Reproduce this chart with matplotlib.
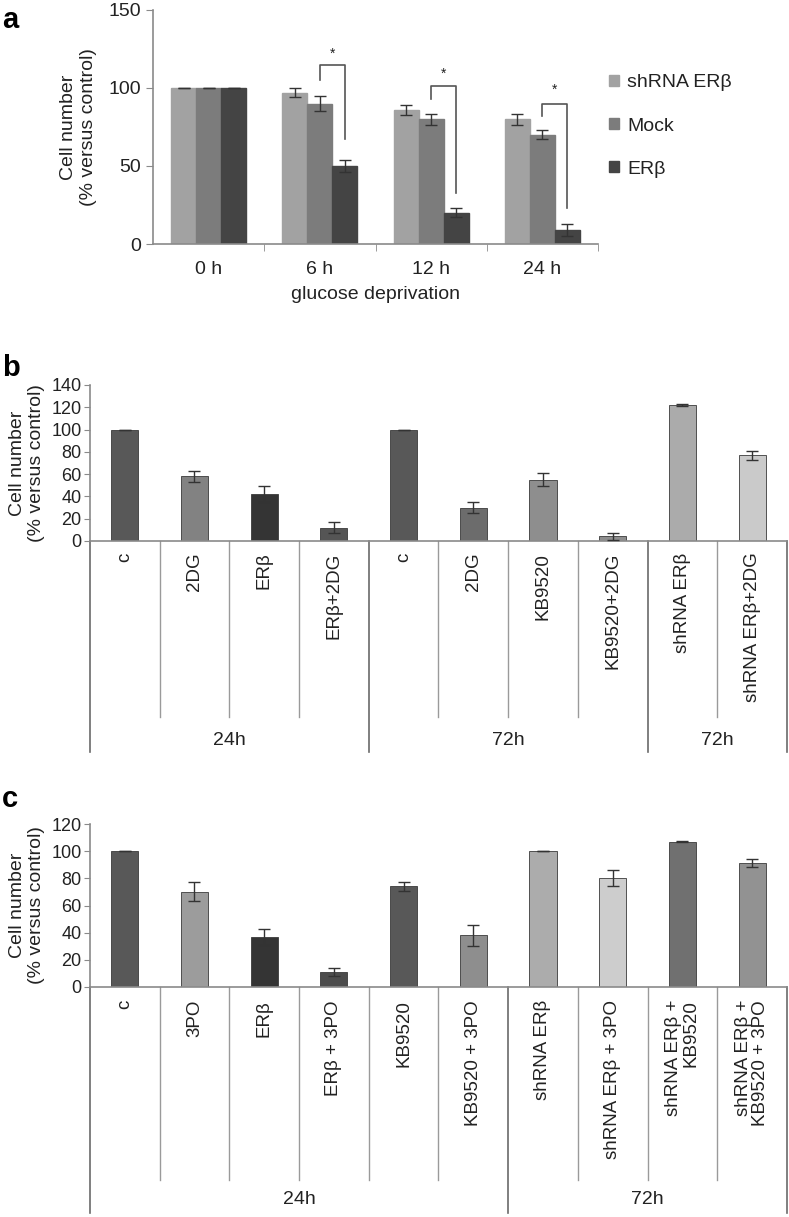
import matplotlib
matplotlib.use('Agg')
import matplotlib.pyplot as plt
import matplotlib.transforms as mtransforms
import numpy as np

plt.rcParams['font.family'] = ['Liberation Sans', 'DejaVu Sans']

# ---- panel a data ----
a_times = ['0 h', '6 h', '12 h', '24 h']
a_series = ['shRNA ERβ', 'Mock', 'ERβ']
a_shrna = [100, 97, 86, 80]
a_mock = [100, 90, 80, 70]
a_erb = [100, 50, 20, 9]
a_shrna_err = [0, 3, 3, 3.5]
a_mock_err = [0, 5, 3.5, 3]
a_erb_err = [0, 4, 3, 4]
a_colors = ['#a2a2a2', '#7c7c7c', '#444444']
# significance brackets: (group, left height, top, right height, star y)
a_sig = [(1, 105, 115, 67, 122), (2, 93, 101, 33, 109), (3, 82, 90, 23, 99)]

# ---- panel b data ----
b_labels = ['c', '2DG', 'ERβ', 'ERβ+2DG', 'c', '2DG', 'KB9520', 'KB9520+2DG',
            'shRNA ERβ', 'shRNA ERβ+2DG']
b_values = [100, 58, 42, 12, 100, 30, 55, 4, 122, 77]
b_errors = [0, 5, 7, 5, 0, 5, 6, 3, 0.5, 4]
b_colors = ['#585858', '#828282', '#343434', '#555555', '#585858', '#6c6c6c',
            '#8e8e8e', '#8e8e8e', '#ababab', '#cacaca']
b_groups = ['24h', '72h', '72h']
b_group_sizes = [4, 4, 2]

# ---- panel c data ----
c_labels = ['c', '3PO', 'ERβ', 'ERβ + 3PO', 'KB9520', 'KB9520 + 3PO', 'shRNA ERβ',
            'shRNA ERβ + 3PO', 'shRNA ERβ +\nKB9520', 'shRNA ERβ +\nKB9520 + 3PO']
c_values = [100, 70, 37, 11, 74, 38, 100, 80, 107, 91]
c_errors = [0, 7, 6, 3, 3, 8, 0, 6, 0.5, 3]
c_colors = ['#585858', '#9c9c9c', '#343434', '#4c4c4c', '#585858', '#8e8e8e',
            '#acacac', '#cdcdcd', '#707070', '#929292']
c_groups = ['24h', '72h']
c_group_sizes = [6, 4]

ylab = 'Cell number\n(% versus control)'
spine_col = '#8a8a8a'
text_col = '#222222'

fig = plt.figure(figsize=(7.89, 12.17), dpi=100)

# ================= panel a =================
ax = fig.add_axes([0.194, 0.7995, 0.564, 0.1923])
x = np.arange(len(a_times))
w = 0.225
for k, (vals, errs) in enumerate([(a_shrna, a_shrna_err), (a_mock, a_mock_err), (a_erb, a_erb_err)]):
    ax.bar(x + (k - 1) * w, vals, w, color=a_colors[k], edgecolor=a_colors[k],
           label=a_series[k], zorder=2)
    ax.errorbar(x + (k - 1) * w, vals, yerr=errs, fmt='none', ecolor='#333333',
                elinewidth=1, capsize=4, capthick=1, zorder=3)
for g, lh, top, rh, sy in a_sig:
    xl, xr = g, g + w
    ax.plot([xl, xl, xr, xr], [lh, top, top, rh], color='#555555', lw=1.2)
    ax.text((xl + xr) / 2, sy, '*', ha='center', va='center', fontsize=10, color=text_col)
ax.set_xlim(-0.5, 3.5)
ax.set_ylim(0, 150)
ax.set_yticks([0, 50, 100, 150])
ax.set_xticks(x)
ax.set_xticklabels(a_times)
ax.set_xticks(np.arange(0.5, 4, 1), minor=True)
ax.tick_params(axis='x', which='major', length=0, pad=12, labelsize=14, colors=text_col)
ax.tick_params(axis='x', which='minor', length=5, color=spine_col)
ax.tick_params(axis='y', length=5, color=spine_col, labelsize=14, labelcolor=text_col)
for s in ['top', 'right']:
    ax.spines[s].set_visible(False)
for s in ['left', 'bottom']:
    ax.spines[s].set_color(spine_col)
    ax.spines[s].set_linewidth(1.2)
ax.set_xlabel('glucose deprivation', fontsize=14, color=text_col, labelpad=6)
ax.set_ylabel(ylab, fontsize=14, color=text_col)
ax.yaxis.set_label_coords(-0.126, 0.5)
leg = ax.legend(loc='upper left', bbox_to_anchor=(0.985, 0.80), frameon=False,
                fontsize=14, handlelength=0.5, handleheight=0.5, handletextpad=0.45,
                labelspacing=1.35)
for t in leg.get_texts():
    t.set_color(text_col)
fig.text(0.003, 0.995, 'a', fontsize=21, fontweight='bold', va='top', ha='left')


# ================= panels b and c =================
def grouped_panel(rect, labels, values, errors, colors, groups, sizes, ymax, sub_len,
                  grp_len, grp_y, lab_y, letter, letter_y):
    ax = fig.add_axes(rect)
    xs = np.arange(len(labels))
    ax.bar(xs, values, 0.39, color=colors, edgecolor='#3a3a3a', linewidth=0.6, zorder=2)
    ax.errorbar(xs, values, yerr=errors, fmt='none', ecolor='#333333', elinewidth=1,
                capsize=4, capthick=1, zorder=3)
    ax.set_xlim(-0.5, len(labels) - 0.5)
    ax.set_ylim(0, ymax)
    ax.set_yticks(np.arange(0, ymax + 1, 20))
    ax.set_xticks([])
    ax.tick_params(axis='y', length=4, color=spine_col, labelsize=13, labelcolor=text_col,
                   pad=2)
    for s in ['top', 'right']:
        ax.spines[s].set_visible(False)
    for s in ['left', 'bottom']:
        ax.spines[s].set_color(spine_col)
        ax.spines[s].set_linewidth(1.2)
    ax.set_ylabel(ylab, fontsize=14, color=text_col)
    ax.yaxis.set_label_coords(-0.064, 0.5)
    trans = mtransforms.blended_transform_factory(ax.transData, ax.transAxes)
    for i, lab in enumerate(labels):
        ax.text(i, lab_y, lab, rotation=90, ha='center', va='top', multialignment='right',
                fontsize=13.5, color=text_col, transform=trans, linespacing=1.0)
    bounds = np.cumsum([0] + sizes) - 0.5
    for b in np.arange(0.5, len(labels) - 1, 1):
        if b not in bounds:
            ax.plot([b, b], [0, sub_len], color='#9a9a9a', lw=1, transform=trans, clip_on=False)
    for b in bounds:
        ax.plot([b, b], [0, grp_len], color='#6a6a6a', lw=1.2, transform=trans, clip_on=False)
    for g, lab in enumerate(groups):
        ax.text((bounds[g] + bounds[g + 1]) / 2, grp_y, lab, ha='center', va='center',
                fontsize=14, color=text_col, transform=trans)
    fig.text(0.003, letter_y, letter, fontsize=21, fontweight='bold', va='top', ha='left')
    return ax


grouped_panel([0.114, 0.5555, 0.8834, 0.1282], b_labels, b_values, b_errors, b_colors,
              b_groups, b_group_sizes, 140, -1.128, -1.353, -1.276, -0.075, 'b', 0.709)
grouped_panel([0.114, 0.189, 0.8834, 0.1339], c_labels, c_values, c_errors, c_colors,
              c_groups, c_group_sizes, 120, -1.184, -1.387, -1.307, -0.08, 'c', 0.355)

fig.savefig('out.png', dpi=100)
